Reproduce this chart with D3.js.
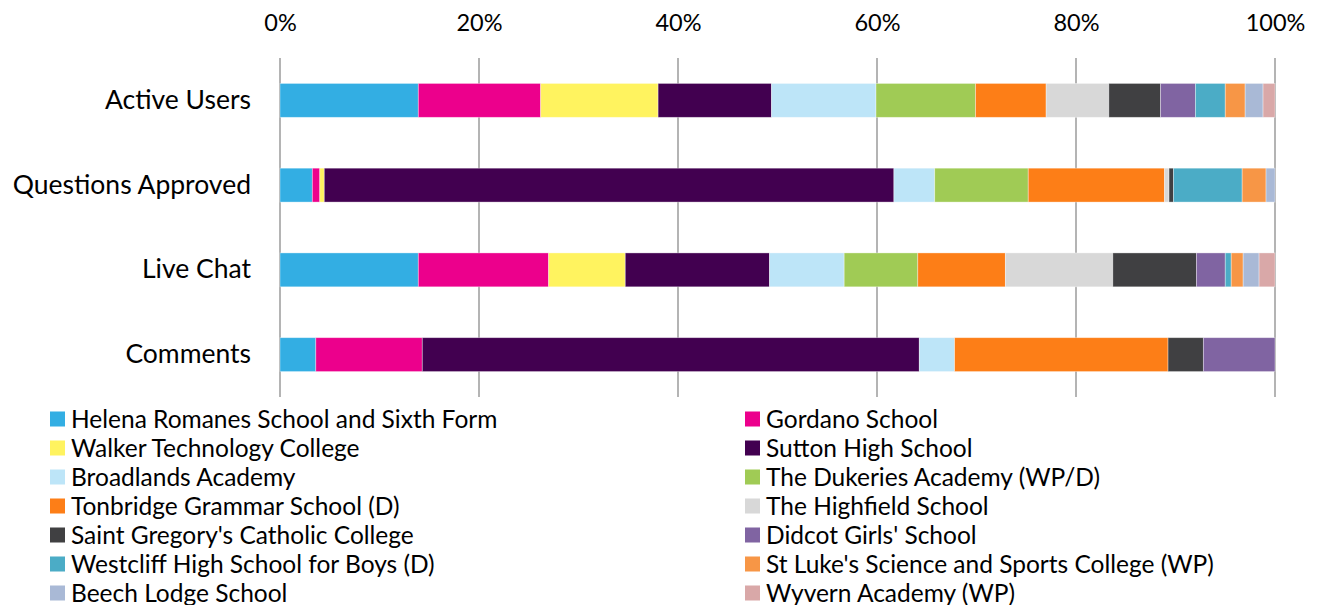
<!DOCTYPE html>
<html>
<head>
<meta charset="utf-8">
<script src="https://cdn.jsdelivr.net/npm/d3@7"></script>
<style>
  html, body { margin: 0; padding: 0; background: #fff; }
  svg text { font-family: Lato, "Open Sans", sans-serif; fill: #000; }
</style>
</head>
<body>
<div id="chart"></div>
<script>
const WIDTH = 1321;
const HEIGHT = 605;

// categories, top to bottom
const categories = ["Active Users", "Questions Approved", "Live Chat", "Comments"];

// schools in stack order (left to right)
const schools = [
  "Helena Romanes School and Sixth Form",
  "Gordano School",
  "Walker Technology College",
  "Sutton High School",
  "Broadlands Academy",
  "The Dukeries Academy (WP/D)",
  "Tonbridge Grammar School (D)",
  "The Highfield School",
  "Saint Gregory's Catholic College",
  "Didcot Girls' School",
  "Westcliff High School for Boys (D)",
  "St Luke's Science and Sports College (WP)",
  "Beech Lodge School",
  "Wyvern Academy (WP)"
];

const schoolColors = [
  "#33aee3", "#ec008c", "#fff35f", "#420050", "#bde5f8", "#a0cb55", "#fd7e17",
  "#d8d8d8", "#404042", "#8064a2", "#4bacc6", "#f79646", "#a9b9d6", "#d9a8a8"
];

// share of each category, per school (percent), same order as schools
const activeUsers       = [13.9, 12.3, 11.8, 11.4, 10.5, 10.0, 7.1, 6.3, 5.2, 3.5, 3.0, 2.0, 1.8, 1.2];
const questionsApproved = [3.25, 0.75, 0.45, 57.25, 4.1, 9.4, 13.7, 0.45, 0.45, 0, 6.9, 2.4, 0.9, 0];
const liveChat          = [13.9, 13.1, 7.7, 14.5, 7.5, 7.4, 8.8, 10.8, 8.4, 2.9, 0.6, 1.2, 1.6, 1.6];
const comments          = [3.6, 10.7, 0, 49.95, 3.55, 0, 21.45, 0, 3.55, 7.2, 0, 0, 0, 0];

const xTicks = [0, 20, 40, 60, 80, 100];

let seriesByCategory = [activeUsers, questionsApproved, liveChat, comments];
let rows = categories.map(function(c, i) {
  let row = {category: c};
  schools.forEach(function(s, j) { row[s] = seriesByCategory[i][j]; });
  return row;
});

let margin = {top: 58, right: 46, bottom: 208, left: 280};
let width = WIDTH - margin.left - margin.right;
let height = HEIGHT - margin.top - margin.bottom;

let svg = d3.select("#chart").append("svg")
    .attr("width", WIDTH)
    .attr("height", HEIGHT);
let svgG = svg.append("g")
    .attr("transform", "translate(" + margin.left + "," + margin.top + ")");

let xScale = d3.scaleLinear().domain([0, 100]).range([0, width]);
let yScale = d3.scaleBand().domain(categories).range([0, height])
    .paddingInner(0.6).paddingOuter(0.3);
let color = d3.scaleOrdinal().domain(schools).range(schoolColors);

// vertical grid lines
svgG.append("g").classed("gridlines", true)
  .selectAll("line").data(xTicks).enter()
  .append("line")
    .attr("x1", d => xScale(d))
    .attr("x2", d => xScale(d))
    .attr("y1", 0)
    .attr("y2", height)
    .attr("stroke", "#8c8c8c")
    .attr("stroke-width", 1.3);

// stacked bars
let stacked = d3.stack().keys(schools)(rows);
svgG.append("g").classed("bars", true)
  .selectAll("g").data(stacked).enter()
  .append("g")
    .attr("fill", d => color(d.key))
  .selectAll("rect").data(d => d).enter()
  .append("rect")
    .attr("x", d => xScale(d[0]))
    .attr("y", d => yScale(d.data.category))
    .attr("width", d => xScale(d[1]) - xScale(d[0]))
    .attr("height", yScale.bandwidth())
    .attr("stroke", "rgba(255,255,255,0.45)")
    .attr("stroke-width", 0.8);

// top axis (labels only)
let xAxis = d3.axisTop(xScale).tickValues(xTicks)
    .tickFormat(d => d + "%").tickSize(0).tickPadding(27);
svgG.append("g").attr("class", "x axis")
    .call(xAxis)
    .call(g => g.select(".domain").remove())
    .selectAll("text")
      .style("font-size", "23.5px");

// category axis (labels only)
let yAxis = d3.axisLeft(yScale).tickSize(0).tickPadding(29);
svgG.append("g").attr("class", "y axis")
    .call(yAxis)
    .call(g => g.select(".domain").remove())
    .selectAll("text")
      .style("font-size", "26.5px");

// legend, two columns
let legendCols = [50, 745];
let legendTop = 419;
let legendStep = 29;
let legend = svg.append("g").classed("legend", true)
  .selectAll("g").data(schools).enter()
  .append("g")
    .attr("transform", (d, i) => "translate(" + legendCols[i % 2] + "," + (legendTop + Math.floor(i / 2) * legendStep) + ")");
legend.append("rect")
    .attr("x", 0)
    .attr("y", -7.5)
    .attr("width", 15)
    .attr("height", 15)
    .attr("fill", d => color(d));
legend.append("text")
    .attr("x", 21)
    .attr("y", 0)
    .attr("dy", "0.35em")
    .style("font-size", "24.5px")
    .text(d => d);
</script>
</body>
</html>
